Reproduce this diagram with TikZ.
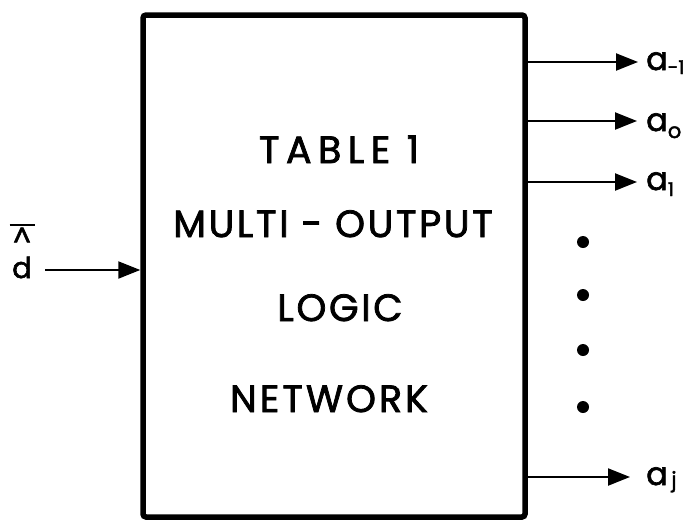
\documentclass[tikz,border=0pt]{standalone}
\usepackage{fontspec}
\setmainfont{Poppins}[FakeBold=2]
\usetikzlibrary{arrows.meta}
\begin{document}
\begin{tikzpicture}[x=1pt,y=-1pt,
  title/.style={anchor=base,inner sep=0pt,
    font=\fontsize{38}{40}\selectfont\addfontfeature{LetterSpace=#1}},
  title/.default=7,
  outlbl/.style={anchor=base west,inner sep=0pt,font=\fontsize{32}{32}\selectfont},
  sig/.style={line width=2.2pt,-{Triangle[length=22pt,width=17pt]}},
  dotmark/.style={circle,fill,inner sep=0pt,minimum size=12pt}]
\useasboundingbox (0,0) rectangle (696,520);

% the logic network block
\node[draw,line width=5.5pt,rounded corners=3pt,minimum width=382pt,
      minimum height=502pt,inner sep=0pt] (box) at (334,266) {};

\node[title=17] (t1) at (339,163) {TABLE 1};
\node[title=7] (t2) at (333,237) {MULTI - OUTPUT};
\node[title=7] (t3) at (340,321) {LOGIC};
\node[title=8] (t4) at (329,412) {NETWORK};

% input, with its hat and bar stacked over the letter
\node[inner sep=0pt,anchor=base,font=\fontsize{29}{29}\selectfont] (din) at (22,278)
  {\ooalign{d\cr
    \hidewidth\raisebox{31pt}{\fontsize{28}{28}\selectfont\^{}}\hidewidth\cr
    \hidewidth\raisebox{52pt}{\rule{25pt}{2.5pt}}\hidewidth\cr}};
\coordinate (dstart) at (45,270);
\draw[sig] (dstart) -- (box.west |- dstart);

% outputs
\node[outlbl] (am1) at (646,70) {a\raisebox{-4pt}{\fontsize{19}{19}\selectfont -1}};
\node[outlbl] (a0) at (646,131) {a\raisebox{-7pt}{\fontsize{21}{21}\selectfont o}};
\node[outlbl] (a1) at (646,190) {a\raisebox{-6pt}{\fontsize{19}{19}\selectfont 1}};
\node[outlbl] (aj) at (646,485) {a\raisebox{-2pt}{\fontsize{21}{21}\selectfont\,j}};

\coordinate (e1) at (638,62);
\coordinate (e2) at (637,121);
\coordinate (e3) at (637,182);
\coordinate (e4) at (630,477);
\draw[sig] (box.east |- e1) -- (e1);
\draw[sig] (box.east |- e2) -- (e2);
\draw[sig] (box.east |- e3) -- (e3);
\draw[sig] (box.east |- e4) -- (e4);

% continuation dots
\node[dotmark] (d1) at (583,242) {};
\node[dotmark] (d2) at (583,295) {};
\node[dotmark] (d3) at (583,350) {};
\node[dotmark] (d4) at (583,407) {};
\end{tikzpicture}
\end{document}
